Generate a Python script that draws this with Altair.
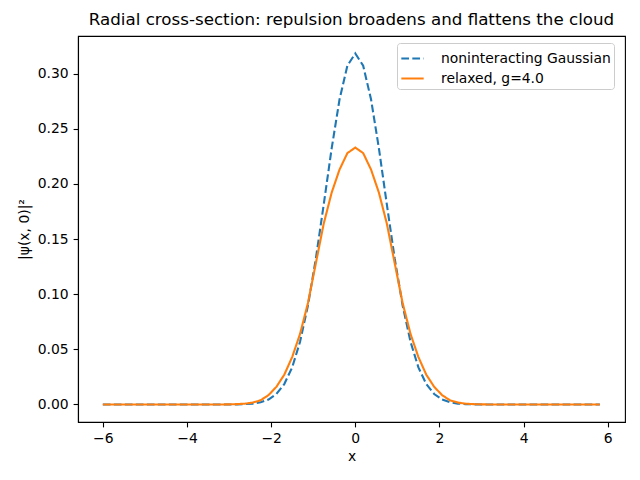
import altair as alt
import pandas as pd

x_values = [
    -6.0, -5.8125, -5.625, -5.4375, -5.25, -5.0625, -4.875, -4.6875,
    -4.5, -4.3125, -4.125, -3.9375, -3.75, -3.5625, -3.375, -3.1875,
    -3.0, -2.8125, -2.625, -2.4375, -2.25, -2.0625, -1.875, -1.6875,
    -1.5, -1.3125, -1.125, -0.9375, -0.75, -0.5625, -0.375, -0.1875,
    0.0, 0.1875, 0.375, 0.5625, 0.75, 0.9375, 1.125, 1.3125,
    1.5, 1.6875, 1.875, 2.0625, 2.25, 2.4375, 2.625, 2.8125,
    3.0, 3.1875, 3.375, 3.5625, 3.75, 3.9375, 4.125, 4.3125,
    4.5, 4.6875, 4.875, 5.0625, 5.25, 5.4375, 5.625, 5.8125,
]

gaussian = [
    0, 0, 0, 0, 0, 0, 0, 0, 0, 0, 0, 0, 0, 0, 0, 0,
    0.0000, 0.0001, 0.0003, 0.0008, 0.0020, 0.0045, 0.0095, 0.0185,
    0.0336, 0.0569, 0.0898, 0.1322, 0.1814, 0.2320, 0.2766, 0.3073,
    0.3183, 0.3073, 0.2766, 0.2320, 0.1814, 0.1322, 0.0898, 0.0569,
    0.0336, 0.0185, 0.0095, 0.0045, 0.0020, 0.0008, 0.0003, 0.0001,
    0, 0, 0, 0, 0, 0, 0, 0, 0, 0, 0, 0, 0, 0, 0, 0,
]

relaxed = [
    0, 0, 0, 0, 0, 0, 0, 0, 0, 0, 0, 0, 0, 0, 0, 0,
    0.0001, 0.0003, 0.0007, 0.0017, 0.0038, 0.0085, 0.016, 0.027,
    0.043, 0.064, 0.092, 0.128, 0.164, 0.192, 0.213, 0.228,
    0.233, 0.228, 0.213, 0.192, 0.164, 0.128, 0.092, 0.064,
    0.043, 0.027, 0.016, 0.0085, 0.0038, 0.0017, 0.0007, 0.0003,
    0.0001, 0, 0, 0, 0, 0, 0, 0, 0, 0, 0, 0, 0, 0, 0, 0,
]

series_names = ['noninteracting Gaussian', 'relaxed, g=4.0']
series_colors = ['#1f77b4', '#ff7f0e']

df = pd.concat([
    pd.DataFrame({'x': x_values, 'y': gaussian, 'series': series_names[0]}),
    pd.DataFrame({'x': x_values, 'y': relaxed, 'series': series_names[1]}),
])

font = 'DejaVu Sans'

base = alt.Chart(df).mark_line(strokeWidth=2.1).encode(
    alt.X('x:Q', title='x',
          scale=alt.Scale(domain=[-6.59, 6.41], nice=False, zero=False),
          axis=alt.Axis(values=[-6, -4, -2, 0, 2, 4, 6], format='d', grid=False,
                        titlePadding=4)),
    alt.Y('y:Q', title='|ψ(x, 0)|²',
          scale=alt.Scale(domain=[-0.0159, 0.3342], nice=False, zero=False),
          axis=alt.Axis(values=[0, 0.05, 0.10, 0.15, 0.20, 0.25, 0.30], format='.2f',
                        grid=False, titlePadding=6)),
    color=alt.Color('series:N', title=None,
                    scale=alt.Scale(domain=series_names, range=series_colors),
                    legend=alt.Legend(orient='none', legendX=319, legendY=7,
                                      fillColor='white', strokeColor='#cccccc',
                                      cornerRadius=3, padding=3,
                                      symbolType='stroke', symbolSize=500,
                                      symbolStrokeWidth=2.1, labelOffset=16,
                                      labelFontSize=13.9, labelFont=font,
                                      labelColor='black', labelLimit=400,
                                      rowPadding=0)),
    strokeDash=alt.StrokeDash('series:N', title=None,
                              scale=alt.Scale(domain=series_names,
                                              range=[[7.7, 3.3], [1, 0]])),
)

gauss_line = base.transform_filter(alt.datum.series == series_names[0])
relaxed_line = base.transform_filter(alt.datum.series == series_names[1])

chart = alt.layer(gauss_line, relaxed_line).properties(
    width=547,
    height=386,
    title=alt.TitleParams('Radial cross-section: repulsion broadens and flattens the cloud',
                          fontSize=16.7, fontWeight='normal', font=font,
                          anchor='middle', frame='group', offset=7, color='black'),
    autosize=alt.AutoSizeParams(type='none'),
    padding={'left': 70, 'top': 28, 'right': 6, 'bottom': 50},
).configure_view(
    stroke='black', strokeWidth=1.1
).configure_axis(
    labelFont=font, titleFont=font, labelFontSize=13.9, titleFontSize=13.9,
    labelColor='black', titleColor='black', titleFontWeight='normal',
    domainColor='black', domainWidth=1.1, tickColor='black', tickWidth=1.1,
    tickSize=4.9, labelPadding=4.9,
)

chart.save("out.html", embed_options={"renderer": "svg", "actions": False})
